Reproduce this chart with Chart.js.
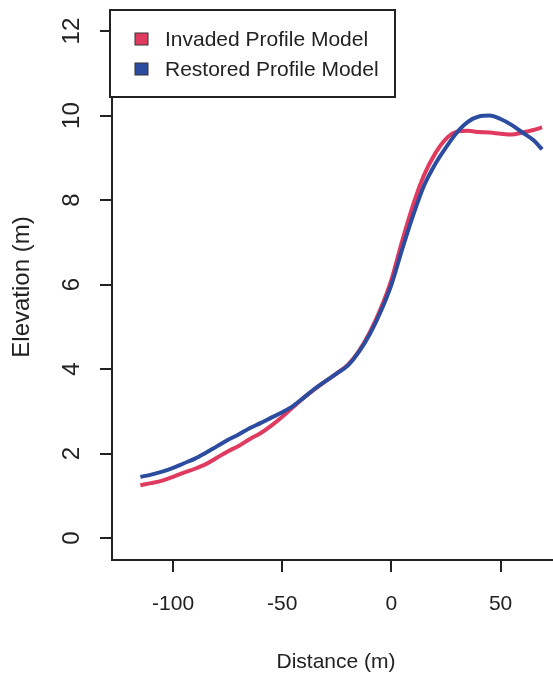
<!DOCTYPE html>
<html>
<head>
<meta charset="utf-8">
<script src="https://cdn.jsdelivr.net/npm/chart.js@4/dist/chart.umd.min.js"></script>
<style>
  html, body { margin: 0; padding: 0; background: #fff; }
  #wrap { width: 553px; height: 679px; }
</style>
</head>
<body>
<div id="wrap"><canvas id="chart"></canvas></div>
<script>
// distance along the profile (m)
const distance = [-115, -110, -105, -100, -95, -90, -85, -80, -75, -70, -65, -60, -55, -50, -45, -40, -35, -30,
  -25, -20, -15, -10, -5, 0, 5, 10, 15, 20, 25, 30, 35, 40, 45, 50, 55, 60, 65, 69]

const invaded = [1.25, 1.30, 1.36, 1.45, 1.55, 1.64, 1.75, 1.90, 2.05, 2.18, 2.34, 2.48, 2.66, 2.87, 3.10, 3.33, 3.53, 3.72,
  3.90, 4.10, 4.42, 4.86, 5.42, 6.12, 7.05, 7.90, 8.60, 9.10, 9.45, 9.62, 9.64, 9.61, 9.60, 9.57, 9.55, 9.60, 9.66, 9.72]

const restored = [1.45, 1.50, 1.57, 1.66, 1.77, 1.88, 2.02, 2.17, 2.32, 2.45, 2.60, 2.72, 2.85, 2.98, 3.13, 3.33, 3.54, 3.72,
  3.90, 4.08, 4.40, 4.82, 5.35, 6.00, 6.85, 7.65, 8.35, 8.85, 9.25, 9.60, 9.85, 9.98, 10.00, 9.92, 9.78, 9.60, 9.42, 9.20]

const xTicks = [-100, -50, 0, 50]
const yTicks = [0, 2, 4, 6, 8, 10, 12]
const seriesNames = ['Invaded Profile Model', 'Restored Profile Model']

const RED = '#e03a5f'
const BLUE = '#2b4c9f'
const INK = '#222222'
const FONT = 'Liberation Sans, Arial, sans-serif'

function toPoints(ys) {
  return ys.map((y, i) => ({ x: distance[i], y }))
}

// R-style extras: rotated y labels, axis titles and the boxed legend
const decorations = {
  id: 'decorations',
  afterDraw(chart) {
    const ctx = chart.ctx
    const yScale = chart.scales.y
    const xScale = chart.scales.x
    ctx.save()
    ctx.fillStyle = INK
    ctx.textAlign = 'center'
    ctx.textBaseline = 'middle'

    ctx.font = `24px ${FONT}`
    yTicks.forEach((v) => {
      ctx.save()
      ctx.translate(72, yScale.getPixelForValue(v))
      ctx.rotate(-Math.PI / 2)
      ctx.fillText(String(v), 0, 0)
      ctx.restore()
    })

    ctx.save()
    ctx.translate(22, 287)
    ctx.rotate(-Math.PI / 2)
    ctx.font = `24px ${FONT}`
    ctx.fillText('Elevation (m)', 0, 0)
    ctx.restore()

    ctx.font = `21px ${FONT}`
    ctx.fillText('Distance (m)', 336, 662)

    // legend box
    const left = xScale.left - 2
    ctx.fillStyle = '#ffffff'
    ctx.fillRect(left, 10, 285, 87)
    ctx.strokeStyle = INK
    ctx.lineWidth = 2
    ctx.strokeRect(left, 10, 285, 87)
    const colors = [RED, BLUE]
    seriesNames.forEach((name, i) => {
      const cy = 39 + i * 30
      ctx.fillStyle = colors[i]
      ctx.fillRect(135, cy - 6, 13, 12)
      ctx.strokeStyle = '#333'
      ctx.lineWidth = 1
      ctx.strokeRect(135, cy - 6, 13, 12)
      ctx.fillStyle = INK
      ctx.textAlign = 'left'
      ctx.font = `21px ${FONT}`
      ctx.fillText(name, 165, cy + 1)
    })
    ctx.restore()
  },
}

new Chart(document.getElementById('chart'), {
  type: 'line',
  data: {
    datasets: [
      {
        label: seriesNames[0],
        data: toPoints(invaded),
        borderColor: RED,
        borderWidth: 4,
        pointRadius: 0,
        cubicInterpolationMode: 'monotone',
        order: 1,
      },
      {
        label: seriesNames[1],
        data: toPoints(restored),
        borderColor: BLUE,
        borderWidth: 4,
        pointRadius: 0,
        cubicInterpolationMode: 'monotone',
        order: 0,
      },
    ],
  },
  options: {
    animation: false,
    responsive: true,
    maintainAspectRatio: false,
    layout: { padding: { top: 10, right: 0, left: 0, bottom: 0 } },
    plugins: {
      legend: { display: false },
      tooltip: { enabled: false },
    },
    scales: {
      x: {
        type: 'linear',
        min: -128,
        max: 74,
        afterBuildTicks: (axis) => {
          axis.ticks = xTicks.map((value) => ({ value }))
        },
        afterFit: (axis) => {
          axis.height = 119
        },
        ticks: {
          color: INK,
          padding: 20,
          maxRotation: 0,
          font: { family: FONT, size: 21 },
        },
        grid: {
          drawOnChartArea: false,
          drawTicks: true,
          tickLength: 12,
          lineWidth: 2,
          color: INK,
        },
        border: { display: true, color: INK, width: 2 },
      },
      y: {
        type: 'linear',
        min: -0.52,
        max: 12.5,
        afterBuildTicks: (axis) => {
          axis.ticks = yTicks.map((value) => ({ value }))
        },
        afterFit: (axis) => {
          axis.width = 112
        },
        ticks: { display: false },
        grid: {
          drawOnChartArea: false,
          drawTicks: true,
          tickLength: 12,
          lineWidth: 2,
          color: INK,
        },
        border: { display: true, color: INK, width: 2 },
      },
    },
  },
  plugins: [decorations],
})
</script>
</body>
</html>
